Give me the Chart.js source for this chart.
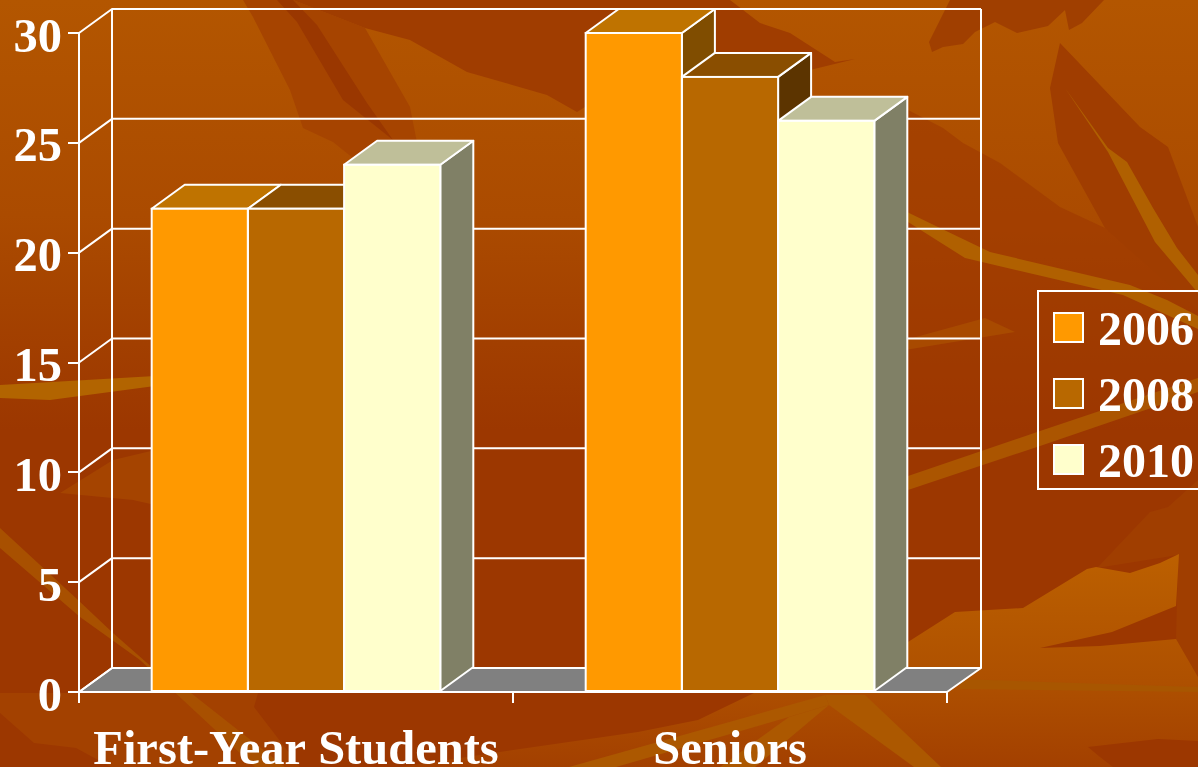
<!DOCTYPE html>
<html>
<head>
<meta charset="utf-8">
<style>
  html, body { margin: 0; padding: 0; background: #9c3700; overflow: hidden; }
  #bg { position: absolute; left: 0; top: 0; }
  #chart { position: absolute; left: 0; top: 0; }
</style>
</head>
<body>
<!-- backdrop texture, only decoration -->
<svg id="bg" width="1198" height="767" viewBox="0 0 1198 767">
  <defs>
    <linearGradient id="base" gradientUnits="userSpaceOnUse" x1="0" y1="0" x2="0" y2="430">
      <stop offset="0" stop-color="#b35600"/>
      <stop offset="0.5" stop-color="#ab4b00"/>
      <stop offset="1" stop-color="#9c3700"/>
    </linearGradient>
    <linearGradient id="low" gradientUnits="userSpaceOnUse" x1="0" y1="554" x2="0" y2="767">
      <stop offset="0" stop-color="#bc6000"/>
      <stop offset="0.6" stop-color="#ae5000"/>
      <stop offset="1" stop-color="#a34000"/>
    </linearGradient>
  </defs>
  <rect width="1198" height="767" fill="url(#base)"/>

  <!-- top middle -->
  <polygon fill="#a64400" points="243,0 253,17 290,90 303,128 333,142 353,158 420,158 410,107 365,28 293,0"/>
  <polygon fill="#a03d00" points="293,0 730,0 760,23 790,33 835,62 855,59 810,70 700,100 585,107 577,112 547,95 467,72 410,40 365,28"/>
  <polygon fill="#9a3700" points="277,0 293,0 317,25 367,103 393,140 343,100 297,22"/>

  <!-- top right -->
  <polygon fill="#9c3700" fill-opacity="0.55" points="908,110 943,128 963,143 1000,163 1060,207 1105,228 1198,300 1198,430 908,430"/>
  <polygon fill="#a03d00" points="1060,43 1140,127 1168,147 1198,227 1198,310 1105,228 1058,143 1050,88"/>
  <polygon fill="#a03f00" points="950,0 929,42 932,52 943,47 963,44 975,32 995,22 1017,33 1048,26 1065,10 1069,30 1082,23 1104,0"/>
  <polygon fill="#b06000" points="1065,88 1108,148 1127,162 1153,208 1177,248 1198,275 1198,293 1155,242 1108,152"/>
  <polygon fill="#b06000" points="907,212 940,228 990,252 1130,285 1167,300 1198,316 1198,329 1123,295 965,258 908,222"/>

  <!-- middle -->
  <polygon fill="#a84a00" points="905,340 985,318 1015,332 905,350"/>
  <polygon fill="#ab5500" points="908,476 1043,430 1198,378 1198,392 1043,445 908,490"/>
  <polygon fill="#b26400" points="0,385 155,376 155,386 50,400 0,398"/>
  <polygon fill="#a54400" points="60,493 113,460 155,450 155,505 133,500"/>

  <!-- bottom -->
  <polygon fill="#a34100" points="0,693 258,693 254,707 300,767 111,767 76,748 34,743 0,713"/>
  <polygon fill="#a85000" points="0,528 78,600 113,633 155,670 191,693 285,767 255,767 140,660 80,617 0,548"/>
  <polygon fill="#a03e00" points="1097,568 1150,512 1168,507 1198,480 1198,677 1176,640 1178,555"/>
  <polygon fill="url(#low)" points="754,693 908,642 955,612 1023,608 1087,569 1096,567 1130,573 1160,563 1179,554 1176,606 1112,632 1040,648 1100,646 1176,639 1198,677 1198,767 400,767 500,752 638,732 698,720"/>
  <polygon fill="#a85600" points="960,679 1198,687 1198,692 960,689"/>
  <polygon fill="#ac5800" points="825,695 865,695 941,767 914,767 829,705"/>
  <polygon fill="#ac5800" points="825,695 829,705 789,717 616,767 569,767"/>
  <polygon fill="#ac5800" points="789,717 829,705 755,767 720,767"/>
  <polygon fill="#9c3700" points="1088,747 1158,739 1198,741 1198,767 1113,767 1100,757"/>
</svg>
<canvas id="chart" width="1198" height="767"></canvas>
<script src="https://cdn.jsdelivr.net/npm/chart.js@4"></script>
<script>
const categories = ['First-Year Students', 'Seniors'];
const years = ['2006', '2008', '2010'];
const values2006 = [22, 30];
const values2008 = [22, 28];
const values2010 = [24, 26];
const yTicks = [0, 5, 10, 15, 20, 25, 30];

const frontColors = ['#ff9900', '#b86800', '#ffffcc'];
const topColors = ['#bf7300', '#8a4e00', '#bfbf99'];
const sideColors = ['#804d00', '#5c3400', '#808066'];

const depthX = 33, depthY = 24;
const fontSize = 48.5;
const legendFont = 'bold 48px "Liberation Serif", "Times New Roman", serif';

function face(ctx, pts, fill) {
  ctx.beginPath();
  ctx.moveTo(pts[0][0], pts[0][1]);
  pts.slice(1).forEach(p => ctx.lineTo(p[0], p[1]));
  ctx.closePath();
  if (fill) { ctx.fillStyle = fill; ctx.fill(); }
  ctx.stroke();
}

// the fake 3D box: walls and floor behind, then top and side of every bar
const box3d = {
  id: 'box3d',
  beforeDraw(chart) {
    // y labels sit a little under their ticks in the original
    chart.scales.y.getLabelItems(chart.chartArea).forEach(item => {
      if (!item.moved) {
        item.options.translation[1] += 6;
        item.moved = true;
      }
    });
  },
  beforeDatasetsDraw(chart) {
    const ctx = chart.ctx, a = chart.chartArea, y = chart.scales.y;
    ctx.save();
    ctx.strokeStyle = '#fff';
    ctx.lineWidth = 2;
    ctx.lineJoin = 'round';

    face(ctx, [[a.left, a.bottom], [a.right, a.bottom], [a.right + depthX + 1, a.bottom - depthY], [a.left + depthX, a.bottom - depthY]], '#808080');

    yTicks.forEach(t => {
      const py = y.getPixelForValue(t);
      ctx.beginPath();
      ctx.moveTo(a.left, py);
      ctx.lineTo(a.left + depthX, py - depthY);
      ctx.lineTo(a.right + depthX + 1, py - depthY);
      ctx.stroke();
    });
    ctx.beginPath();
    ctx.moveTo(a.left + depthX, a.top - depthY);
    ctx.lineTo(a.left + depthX, a.bottom - depthY);
    ctx.moveTo(a.right + depthX + 1, a.top - depthY);
    ctx.lineTo(a.right + depthX + 1, a.bottom - depthY);
    ctx.stroke();

    const bars = [];
    chart.data.datasets.forEach((ds, i) => {
      chart.getDatasetMeta(i).data.forEach(el => bars.push({ el, i }));
    });
    bars.sort((p, q) => p.el.x - q.el.x);
    bars.forEach(({ el, i }) => {
      const l = el.x - el.width / 2, r = el.x + el.width / 2;
      face(ctx, [[r, el.y], [r + depthX, el.y - depthY], [r + depthX, el.base - depthY], [r, el.base]], sideColors[i]);
      face(ctx, [[l, el.y], [l + depthX, el.y - depthY], [r + depthX, el.y - depthY], [r, el.y]], topColors[i]);
    });
    ctx.restore();
  },
  afterDatasetsDraw(chart) {
    // one shared white edge between neighbouring bars
    const ctx = chart.ctx;
    ctx.save();
    ctx.strokeStyle = '#fff';
    ctx.lineWidth = 2;
    chart.data.datasets.forEach((ds, i) => {
      chart.getDatasetMeta(i).data.forEach(el => {
        ctx.strokeRect(el.x - el.width / 2, el.y, el.width, el.base - el.y);
      });
    });
    ctx.restore();
  },
  afterDraw(chart) {
    const ctx = chart.ctx;
    ctx.save();
    ctx.strokeStyle = '#fff';
    ctx.lineWidth = 2;
    ctx.strokeRect(1038, 291, 170, 198);
    ctx.font = legendFont;
    ctx.textBaseline = 'alphabetic';
    chart.data.datasets.forEach((ds, i) => {
      const top = 313 + i * 66;
      ctx.fillStyle = ds.backgroundColor;
      ctx.fillRect(1054, top, 29, 29);
      ctx.strokeRect(1054, top, 29, 29);
      ctx.fillStyle = '#fff';
      ctx.fillText(ds.label, 1098, top + 32);
    });
    ctx.restore();
  }
};

new Chart(document.getElementById('chart'), {
  type: 'bar',
  data: {
    labels: categories,
    datasets: [
      { label: years[0], data: values2006, backgroundColor: frontColors[0] },
      { label: years[1], data: values2008, backgroundColor: frontColors[1] },
      { label: years[2], data: values2010, backgroundColor: frontColors[2] }
    ]
  },
  plugins: [box3d],
  options: {
    responsive: false,
    animation: false,
    layout: { padding: { top: 33, right: 251, left: 0, bottom: 0 } },
    datasets: {
      bar: { categoryPercentage: 0.665, barPercentage: 1, borderWidth: 0 }
    },
    plugins: {
      legend: { display: false },
      tooltip: { enabled: false }
    },
    scales: {
      x: {
        afterFit(scale) { scale.height = 75; },
        grid: { color: '#fff', lineWidth: 2, drawOnChartArea: false, tickLength: 11, offset: true },
        border: { color: '#fff', width: 2 },
        ticks: {
          color: '#fff',
          padding: 19,
          maxRotation: 0,
          font: { family: '"Liberation Serif"', size: fontSize, weight: 'bold' }
        }
      },
      y: {
        min: 0,
        max: 30,
        afterFit(scale) {
          scale.width = 79;
          scale.paddingTop = 0;
          scale.paddingBottom = 0;
        },
        afterBuildTicks(scale) { scale.ticks = yTicks.map(value => ({ value })); },
        grid: { color: '#fff', lineWidth: 2, drawOnChartArea: false, tickLength: 11 },
        border: { color: '#fff', width: 2 },
        ticks: {
          color: '#fff',
          padding: 6,
          font: { family: '"Liberation Serif"', size: fontSize, weight: 'bold' }
        }
      }
    }
  }
});
</script>
</body>
</html>
